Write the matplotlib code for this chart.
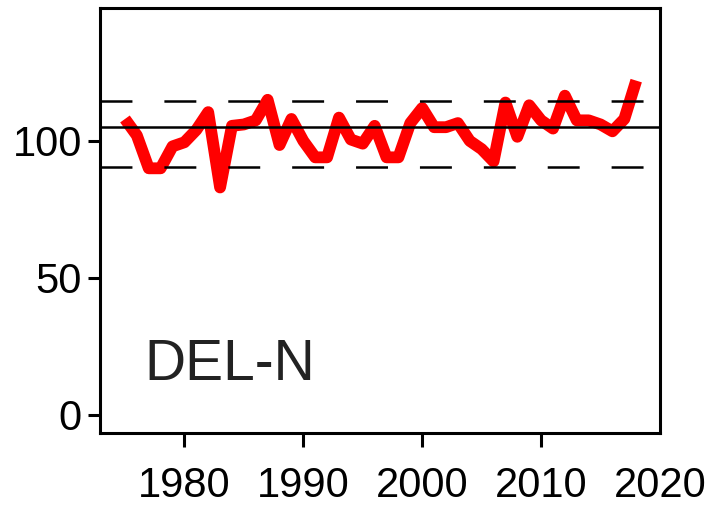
import matplotlib
matplotlib.use("Agg")
import matplotlib.pyplot as plt
import numpy as np

plt.rcParams['font.family'] = ['Liberation Sans', 'DejaVu Sans']

# annual index, DEL-N station
years = np.arange(1975, 2019)
values = [108, 102, 90, 90, 98, 99.5, 104, 110.5, 83, 105.5,
          106, 107.5, 115, 98.5, 108, 100, 94, 94, 108.5, 100.5,
          99, 105.5, 94, 94, 106.5, 112, 105, 105, 106.5, 100,
          97, 92.5, 114, 101.5, 113, 107.5, 104.5, 116.5, 107.5, 107.5,
          106, 103.5, 108, 122]
mean_level = 105.0
upper_level = 114.7
lower_level = 90.4
xticks = [1980, 1990, 2000, 2010, 2020]
yticks = [0, 50, 100]
label = "DEL-N"

fig = plt.figure(figsize=(7.09, 5.09), dpi=100)
ax = fig.add_axes([100/709, 1 - 433/509, 560/709, 425/509])

ax.plot(years, values, color='red', lw=8.5, solid_capstyle='butt',
        solid_joinstyle='round', zorder=2)
lw = 1.8
ax.axhline(mean_level, color='black', lw=lw, zorder=3)
for lev in (upper_level, lower_level):
    ax.axhline(lev, color='black', lw=lw, dashes=(23/lw, 23/lw), zorder=3)

ax.set_xlim(1972.9, 2020)
ax.set_ylim(-6.6, 148.5)
ax.set_xticks(xticks)
ax.set_yticks(yticks)
ax.tick_params(axis='x', length=10, width=2.2, pad=14, labelsize=30)
ax.tick_params(axis='y', length=9, width=2.2, pad=4, labelsize=30)
# last tick sits on the right spine, only its label shows
ax.xaxis.get_major_ticks()[-1].tick1line.set_visible(False)
for s in ax.spines.values():
    s.set_linewidth(2.2)

ax.text(0.08, 0.125, label, transform=ax.transAxes, fontsize=41,
        color='#222222', ha='left', va='baseline')

plt.savefig("out.png", dpi=100)
